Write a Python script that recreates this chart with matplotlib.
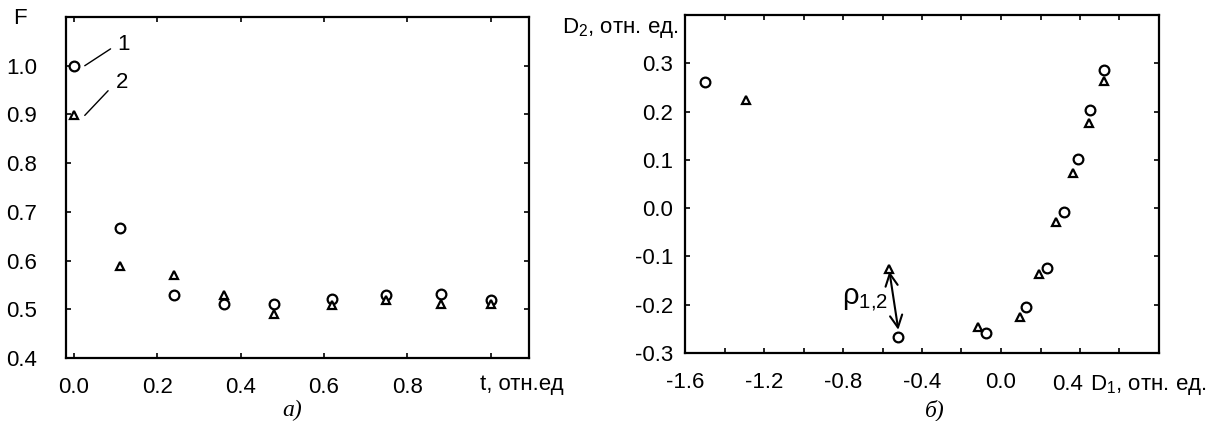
import numpy as np
import matplotlib
matplotlib.use("Agg")
import matplotlib.pyplot as plt

plt.rcParams['font.family'] = ['Liberation Sans', 'DejaVu Sans']
plt.rcParams['mathtext.default'] = 'regular'

# panel a) F(t)
t = [0.0, 0.11, 0.24, 0.36, 0.48, 0.62, 0.75, 0.88, 1.0]
F1 = [1.0, 0.667, 0.530, 0.511, 0.511, 0.522, 0.530, 0.532, 0.520]
F2 = [0.898, 0.589, 0.571, 0.530, 0.490, 0.509, 0.520, 0.510, 0.510]

# panel b) D1, D2
d1_circ = [-1.50, -0.52, -0.075, 0.125, 0.235, 0.32, 0.39, 0.45, 0.52]
d2_circ = [0.261, -0.267, -0.259, -0.205, -0.124, -0.009, 0.101, 0.203, 0.287]
d1_tri = [-1.29, -0.565, -0.115, 0.095, 0.19, 0.28, 0.365, 0.445, 0.52]
d2_tri = [0.223, -0.126, -0.247, -0.226, -0.137, -0.029, 0.073, 0.176, 0.263]

W, H = 1227, 421
fig = plt.figure(figsize=(W / 100, H / 100), dpi=100)

ax1 = fig.add_axes([66 / W, 1 - 358 / H, 463 / W, 341 / H])
ax2 = fig.add_axes([685 / W, 1 - 353 / H, 474 / W, 338 / H])

FS = 16
circ = dict(ls='none', marker='o', ms=7, mfc='white', mec='black', mew=1.6, clip_on=False)
tri = dict(ls='none', marker='^', ms=6.3, mfc='white', mec='black', mew=1.6, clip_on=False)

for ax in (ax1, ax2):
    for s in ax.spines.values():
        s.set_linewidth(1.6)
    ax.tick_params(direction='in', length=3.5, width=1.2, top=True, right=True,
                   labelsize=FS)

# ---- a)
ax1.plot(t, F1, **circ)
ax1.plot(t, F2, **tri)
ax1.set_xlim(-0.019, 1.092)
ax1.set_ylim(0.4, 1.1)
ax1.set_xticks(np.arange(0, 1.01, 0.2))
ax1.set_xticklabels(['0.0', '0.2', '0.4', '0.6', '0.8', ''])
ax1.set_yticks(np.arange(0.4, 1.01, 0.1))
ax1.set_yticklabels(['%.1f' % v for v in np.arange(0.4, 1.01, 0.1)])
ax1.tick_params(axis='x', pad=14)
ax1.tick_params(axis='y', pad=21)

ax1.annotate('1', xy=(0.026, 1.0), xytext=(0.118, 1.043), fontsize=FS,
             ha='center', va='center',
             arrowprops=dict(arrowstyle='-', lw=1.0, color='black',
                             relpos=(0, 0.5), shrinkA=3, shrinkB=0))
ax1.annotate('2', xy=(0.026, 0.898), xytext=(0.115, 0.965), fontsize=FS,
             ha='center', va='center',
             arrowprops=dict(arrowstyle='-', lw=1.0, color='black',
                             relpos=(0, 0.5), shrinkA=5, shrinkB=0))

fig.text(20 / W, 1 - 19 / H, 'F', fontsize=FS, ha='center', va='center')
fig.text(480 / W, 1 - 390 / H, 't, отн.ед', fontsize=FS, ha='left', va='baseline')
fig.text(292 / W, 1 - 410 / H, 'a)', fontsize=17, ha='center', va='center',
         family='Liberation Serif', style='italic')

# ---- б)
ax2.plot(d1_circ, d2_circ, **circ)
ax2.plot(d1_tri, d2_tri, **tri)
ax2.set_xlim(-1.6, 0.8)
ax2.set_ylim(-0.3, 0.4)
xt = np.arange(-1.6, 0.61, 0.2)
ax2.set_xticks(xt)
lab = []
for v in xt:
    k = int(round(v * 10))
    lab.append('%.1f' % (k / 10) if k % 4 == 0 and k < 4 else '')
ax2.set_xticklabels(lab)
ax2.set_yticks(np.arange(-0.3, 0.31, 0.1))
ax2.set_yticklabels(['%.1f' % (round(v, 1) + 0.0) for v in np.arange(-0.3, 0.31, 0.1)])
ax2.tick_params(axis='x', pad=14)
ax2.tick_params(axis='y', pad=8.5)
# shifted 0.4 label (left of D1 label)
ax2.annotate('0.4', xy=(0.4, 0), xycoords=('data', 'axes fraction'),
             xytext=(-9, -26.5), textcoords='offset points', fontsize=FS,
             ha='center', va='baseline')

ax2.annotate('', xy=(-0.52, -0.252), xytext=(-0.565, -0.131),
             arrowprops=dict(arrowstyle='<->', lw=1.5, color='black',
                             mutation_scale=22, shrinkA=0, shrinkB=0))
ax2.text(-0.69, -0.19, r'ρ$_{1{,}2}$', fontsize=21, ha='center', va='center')

fig.text(562 / W, 1 - 33 / H, 'D$_2$, отн. ед.', fontsize=FS, ha='left', va='baseline')
fig.text(1090 / W, 1 - 390 / H, 'D$_1$, отн. ед.', fontsize=FS, ha='left', va='baseline')
fig.text(935 / W, 1 - 410 / H, 'б)', fontsize=17, ha='center', va='center',
         family='Liberation Serif', style='italic')

fig.savefig('out.png', dpi=100)
